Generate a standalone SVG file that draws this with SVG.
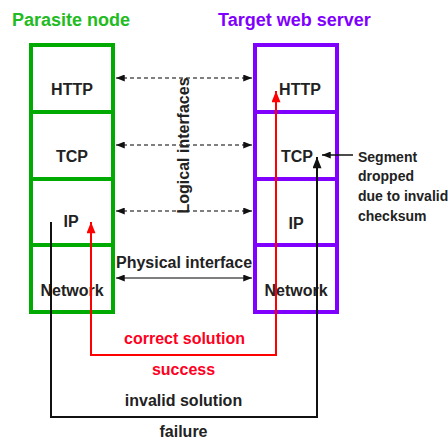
<svg xmlns="http://www.w3.org/2000/svg" width="448" height="441" viewBox="0 0 448 441">
<style>
text{font-family:"Liberation Sans",Arial,sans-serif;font-weight:bold}
.title{font-size:18px}
.lbl{font-size:16px;fill:#222;text-anchor:middle}
.lbl.rt{fill:#ff0022}
.note{font-size:14px;fill:#222}
.box{fill:none;stroke-width:4}
.green{stroke:#00aa00}
.purple{stroke:#8000ff}
.dash{stroke:#555;stroke-width:1.5;stroke-dasharray:4 3;fill:none}
.solid{stroke:#555;stroke-width:1.5;fill:none}
.red{stroke:#ff0000;stroke-width:2;fill:none}
.blk{stroke:#111;stroke-width:2;fill:none}
</style>
<defs>
<marker id="ah" viewBox="0 0 10 8" refX="10" refY="4" markerWidth="10" markerHeight="7" markerUnits="userSpaceOnUse" orient="auto-start-reverse"><path d="M0,0L10,4L0,8z" fill="#111"/></marker>
<marker id="ahr" viewBox="0 0 10 8" refX="10" refY="4" markerWidth="12" markerHeight="9" markerUnits="userSpaceOnUse" orient="auto-start-reverse"><path d="M0,0L10,4L0,8z" fill="#ff0000"/></marker>
<marker id="ahb" viewBox="0 0 10 8" refX="10" refY="4" markerWidth="12" markerHeight="9" markerUnits="userSpaceOnUse" orient="auto"><path d="M0,0L10,4L0,8z" fill="#111"/></marker>
</defs>
<text class="title" x="12" y="26" fill="#22bb22">Parasite node</text>
<text class="title" x="218" y="26" fill="#8000ff">Target web server</text>
<g id="parasite">
<rect class="box green" x="31" y="45" width="82" height="267"/>
<line class="box green" x1="31" y1="112" x2="113" y2="112"/>
<line class="box green" x1="31" y1="179" x2="113" y2="179"/>
<line class="box green" x1="31" y1="245" x2="113" y2="245"/>
<text class="lbl" x="72" y="95">HTTP</text>
<text class="lbl" x="72" y="162">TCP</text>
<text class="lbl" x="71" y="227">IP</text>
<text class="lbl" x="72" y="296">Network</text>
</g>
<g id="server">
<rect class="box purple" x="255" y="45" width="82" height="267"/>
<line class="box purple" x1="255" y1="112" x2="337" y2="112"/>
<line class="box purple" x1="255" y1="179" x2="337" y2="179"/>
<line class="box purple" x1="255" y1="245" x2="337" y2="245"/>
<text class="lbl" x="300" y="95">HTTP</text>
<text class="lbl" x="297" y="162">TCP</text>
<text class="lbl" x="296" y="229">IP</text>
<text class="lbl" x="296" y="296">Network</text>
</g>
<g id="connectors">
<line class="dash" x1="116" y1="78" x2="252" y2="78" marker-start="url(#ah)" marker-end="url(#ah)"/>
<line class="dash" x1="116" y1="145" x2="252" y2="145" marker-start="url(#ah)" marker-end="url(#ah)"/>
<line class="dash" x1="116" y1="211" x2="252" y2="211" marker-start="url(#ah)" marker-end="url(#ah)"/>
<line class="solid" x1="116" y1="278" x2="252" y2="278" marker-start="url(#ah)" marker-end="url(#ah)"/>
<polyline class="red" points="91,222 91,355 276,355 276,91" marker-start="url(#ahr)" marker-end="url(#ahr)"/>
<polyline class="blk" points="51,222 51,417 317,417 317,157" marker-end="url(#ahb)"/>
<line class="blk" style="stroke-width:1.5" x1="353" y1="155" x2="322" y2="155" marker-end="url(#ah)"/>
</g>
<text class="lbl" transform="translate(189,145.5) rotate(-90)">Logical interfaces</text>
<text class="lbl" x="184" y="268">Physical interface</text>
<text class="lbl rt" x="184.5" y="344">correct solution</text>
<text class="lbl rt" x="183.5" y="375">success</text>
<text class="lbl" x="183.5" y="406">invalid solution</text>
<text class="lbl" x="183.5" y="437">failure</text>
<text class="note" x="358" y="162">Segment</text>
<text class="note" x="358" y="181">dropped</text>
<text class="note" x="358" y="201">due to invalid</text>
<text class="note" x="358" y="221">checksum</text>
</svg>
